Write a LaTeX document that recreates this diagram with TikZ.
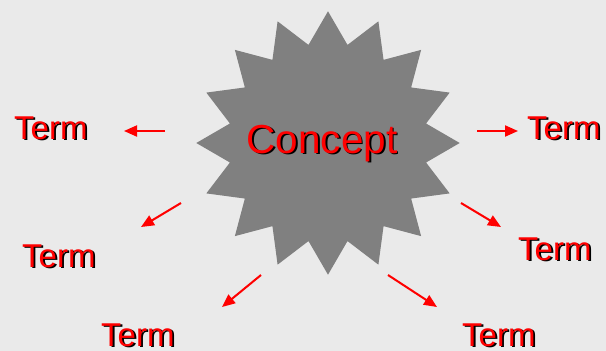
\documentclass[tikz,border=0pt]{standalone}
\usepackage{fontspec}
\setmainfont{Liberation Sans}
\usetikzlibrary{arrows.meta}
\definecolor{bgcol}{RGB}{234,234,234}
\definecolor{burst}{RGB}{128,128,128}
\definecolor{txtred}{RGB}{255,0,0}
% text with a dark drop shadow underneath
\newcommand{\dropshadowed}[1]{\makebox[0pt][l]{\kern1.8pt\raisebox{-1.8pt}{\color{black}#1}}#1}
\tikzset{
  termtext/.style={anchor=base west, inner sep=0pt, text=txtred,
    font=\fontsize{33}{40}\selectfont},
  concepttext/.style={anchor=base, inner sep=0pt, text=txtred,
    font=\fontsize{40.5}{48}\selectfont},
  pointer/.style={draw=txtred, line width=2pt,
    -{Triangle[length=13pt,width=11pt]}},
}
\begin{document}
\begin{tikzpicture}[x=1pt,y=-1pt]
  \fill[bgcol] (0,0) rectangle (606,351);
  \useasboundingbox (0,0) rectangle (606,351);

  % sixteen-point starburst
  \fill[burst, shift={(328,143)}] (90:131.7)
    \foreach \i in {0,...,15} { -- ({90+22.5*\i}:131.7) -- ({101.25+22.5*\i}:100) } -- cycle;

  \node[concepttext] (concept) at (322,153) {\dropshadowed{Concept}};

  \node[termtext] (tl)  at (14,139)  {\dropshadowed{Term}};
  \node[termtext] (tr)  at (527,139) {\dropshadowed{Term}};
  \node[termtext] (ml)  at (22,267)  {\dropshadowed{Term}};
  \node[termtext] (mr)  at (518,260) {\dropshadowed{Term}};
  \node[termtext] (bl)  at (101,346) {\dropshadowed{Term}};
  \node[termtext] (br)  at (462,346) {\dropshadowed{Term}};

  % arrow tails and tips
  \coordinate (tlS) at (165,131); \coordinate (tlE) at (124,131);
  \coordinate (trS) at (477,131); \coordinate (trE) at (518,131);
  \coordinate (mlS) at (181,203); \coordinate (mlE) at (141,227);
  \coordinate (mrS) at (461,203); \coordinate (mrE) at (501,227);
  \coordinate (blS) at (261,275); \coordinate (blE) at (222,307);
  \coordinate (brS) at (388,275); \coordinate (brE) at (437,307);

  \draw[pointer] (tlS) -- (tlE);
  \draw[pointer] (trS) -- (trE);
  \draw[pointer] (mlS) -- (mlE);
  \draw[pointer] (mrS) -- (mrE);
  \draw[pointer] (blS) -- (blE);
  \draw[pointer] (brS) -- (brE);
\end{tikzpicture}
\end{document}
